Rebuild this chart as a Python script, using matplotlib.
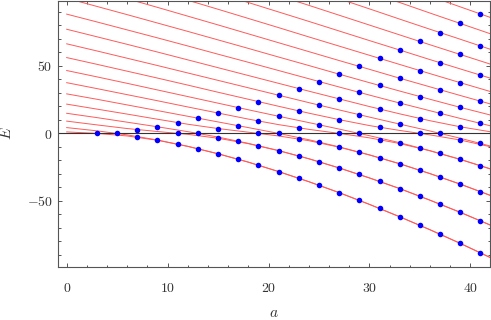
import matplotlib
matplotlib.use('Agg')
import matplotlib.pyplot as plt
from matplotlib.ticker import MultipleLocator, FuncFormatter

# parameter a at which the level curves are sampled
a_grid = [0, 3, 6, 9, 12, 15, 18, 21, 24, 27, 30, 33, 36, 39, 42]

# energy level curves E_n(a), one row per level
levels = [
    [1.1, -0.0, -1.9, -5.1, -9.6, -15.1, -21.3, -28.3, -35.8, -43.9, -52.6, -61.8, -71.4, -81.5, -92.1],
    [4.3, 1.9, -1.1, -4.9, -9.6, -15.1, -21.3, -28.3, -35.8, -43.9, -52.6, -61.8, -71.4, -81.5, -92.1],
    [9.1, 6.3, 3.6, 1.4, -0.7, -3.6, -7.6, -12.8, -18.8, -25.6, -33.0, -40.9, -49.5, -58.5, -68.0],
    [14.9, 11.7, 8.3, 4.9, 1.3, -2.7, -7.4, -12.7, -18.8, -25.6, -33.0, -40.9, -49.5, -58.5, -68.0],
    [21.7, 18.0, 14.3, 10.5, 6.8, 3.6, 0.9, -1.9, -5.4, -10.2, -16.0, -22.5, -29.8, -37.6, -46.0],
    [29.3, 25.3, 21.1, 16.9, 12.7, 8.5, 4.3, -0.0, -4.7, -10.0, -15.9, -22.5, -29.8, -37.6, -46.0],
    [37.6, 33.2, 28.7, 24.2, 19.6, 15.1, 10.6, 6.5, 3.0, -0.0, -3.3, -7.5, -12.9, -19.3, -26.4],
    [46.6, 41.9, 37.1, 32.2, 27.3, 22.4, 17.5, 12.7, 8.0, 3.2, -1.7, -6.9, -12.8, -19.2, -26.3],
    [56.2, 51.2, 46.1, 41.0, 35.8, 30.5, 25.3, 20.1, 15.0, 10.2, 5.8, 2.2, -1.1, -4.9, -9.9],
    [66.4, 61.1, 55.7, 50.3, 44.8, 39.3, 33.8, 28.3, 22.8, 17.4, 12.1, 6.9, 1.8, -3.6, -9.4],
    [77.2, 71.6, 66.0, 60.3, 54.5, 48.7, 42.9, 37.1, 31.3, 25.6, 19.9, 14.5, 9.4, 4.9, 1.2],
    [88.4, 82.6, 76.7, 70.8, 64.8, 58.7, 52.7, 46.6, 40.5, 34.4, 28.4, 22.5, 16.8, 11.1, 5.6],
    [100.2, 94.1, 88.0, 81.8, 75.6, 69.3, 63.0, 56.6, 50.3, 43.9, 37.6, 31.4, 25.3, 19.3, 13.6],
    [112.4, 106.1, 99.8, 93.4, 86.9, 80.4, 73.8, 67.2, 60.6, 54.0, 47.5, 40.9, 34.5, 28.1, 21.8],
    [125.1, 118.6, 112.0, 105.4, 98.7, 92.0, 85.2, 78.4, 71.5, 64.7, 57.9, 51.1, 44.3, 37.6, 31.0],
    [138.3, 131.5, 124.8, 117.9, 111.0, 104.0, 97.0, 90.0, 83.0, 75.9, 68.8, 61.8, 54.7, 47.8, 40.9],
    [151.9, 144.9, 137.9, 130.9, 123.8, 116.6, 109.4, 102.1, 94.9, 87.6, 80.3, 73.0, 65.7, 58.5, 51.3],
    [165.9, 158.7, 151.5, 144.3, 136.9, 129.6, 122.2, 114.7, 107.3, 99.8, 92.3, 84.7, 77.2, 69.8, 62.3],
    [180.3, 172.9, 165.5, 158.1, 150.6, 143.0, 135.4, 127.8, 120.1, 112.4, 104.7, 97.0, 89.2, 81.5, 73.8],
    [195.1, 187.6, 180.0, 172.3, 164.6, 156.9, 149.1, 141.2, 133.4, 125.5, 117.6, 109.6, 101.7, 93.8, 85.9],
    [210.3, 202.6, 194.8, 186.9, 179.1, 171.1, 163.1, 155.1, 147.1, 139.0, 130.9, 122.8, 114.6, 106.5, 98.4],
]

# marked (exact) eigenvalues at odd a
point_a = [3, 5, 7, 9, 11, 13, 15, 17, 19, 21, 23, 25, 27, 29, 31, 33, 35, 37, 39, 41]
point_E = [
    [0.0],
    [0.0],
    [-2.83, 2.83],
    [-4.90, 4.90],
    [-8.00, 0.0, 8.00],
    [-11.31, 0.0, 11.31],
    [-15.08, -3.56, 3.56, 15.08],
    [-19.16, -5.74, 5.74, 19.16],
    [-23.56, -9.21, 0.0, 9.21, 23.56],
    [-28.26, -12.71, 0.0, 12.71, 28.26],
    [-33.23, -16.71, -4.10, 4.10, 16.71, 33.23],
    [-38.46, -20.98, -6.39, 6.39, 20.98, 38.46],
    [-43.94, -25.56, -10.19, 0.0, 10.19, 25.56, 43.94],
    [-49.66, -30.42, -13.86, 0.0, 13.86, 30.42, 49.66],
    [-55.61, -35.55, -18.08, -4.55, 4.55, 18.08, 35.55, 55.61],
    [-61.78, -40.94, -22.53, -6.94, 6.94, 22.53, 40.94, 61.78],
    [-68.16, -46.56, -27.30, -11.02, 0.0, 11.02, 27.30, 46.56, 68.16],
    [-74.74, -52.42, -32.33, -14.86, 0.0, 14.86, 32.33, 52.42, 74.74],
    [-81.53, -58.49, -37.62, -19.28, -4.93, 4.93, 19.28, 37.62, 58.49, 81.53],
    [-88.51, -64.79, -43.15, -23.91, -7.42, 7.42, 23.91, 43.15, 64.79, 88.51],
]

plt.rcParams['mathtext.fontset'] = 'cm'
fig = plt.figure(figsize=(4.91, 3.2), dpi=100)
ax = fig.add_axes([58 / 491, 53.3 / 320, 431.5 / 491, 266.2 / 320])

for row in levels:
    ax.plot(a_grid, row, color='#ff5a5a', lw=0.7, zorder=2)
ax.axhline(0, color='#333333', lw=0.8, zorder=2.5)
for a, es in zip(point_a, point_E):
    ax.plot([a] * len(es), es, 'o', color='#0000ff', ms=4, mec='none', zorder=3)

ax.set_xlim(-0.86, 41.9)
ax.set_ylim(-98.8, 98.5)
ax.xaxis.set_major_locator(MultipleLocator(10))
ax.xaxis.set_minor_locator(MultipleLocator(2))
ax.yaxis.set_major_locator(MultipleLocator(50))
ax.yaxis.set_minor_locator(MultipleLocator(10))
fmt = FuncFormatter(lambda v, p: '$%d$' % round(v))
ax.xaxis.set_major_formatter(fmt)
ax.yaxis.set_major_formatter(fmt)
for s in ax.spines.values():
    s.set_color('#555555')
    s.set_linewidth(0.8)
ax.tick_params(which='both', direction='in', top=True, right=True,
               color='#555555', width=0.7, labelcolor='#333333', labelsize=10)
ax.tick_params(which='major', length=3.2)
ax.tick_params(which='minor', length=1.8)
ax.tick_params(axis='x', pad=10)
ax.tick_params(axis='y', pad=3.8)
ax.set_xlabel('$a$', fontsize=11, color='#333333')
ax.set_ylabel('$E$', fontsize=11, color='#333333')
ax.xaxis.set_label_coords(0.5, -0.172)
ax.xaxis.label.set_va('center')
ax.yaxis.set_label_coords(-0.1205, 0.5)
ax.yaxis.label.set_va('center')
fig.savefig('out.png')
